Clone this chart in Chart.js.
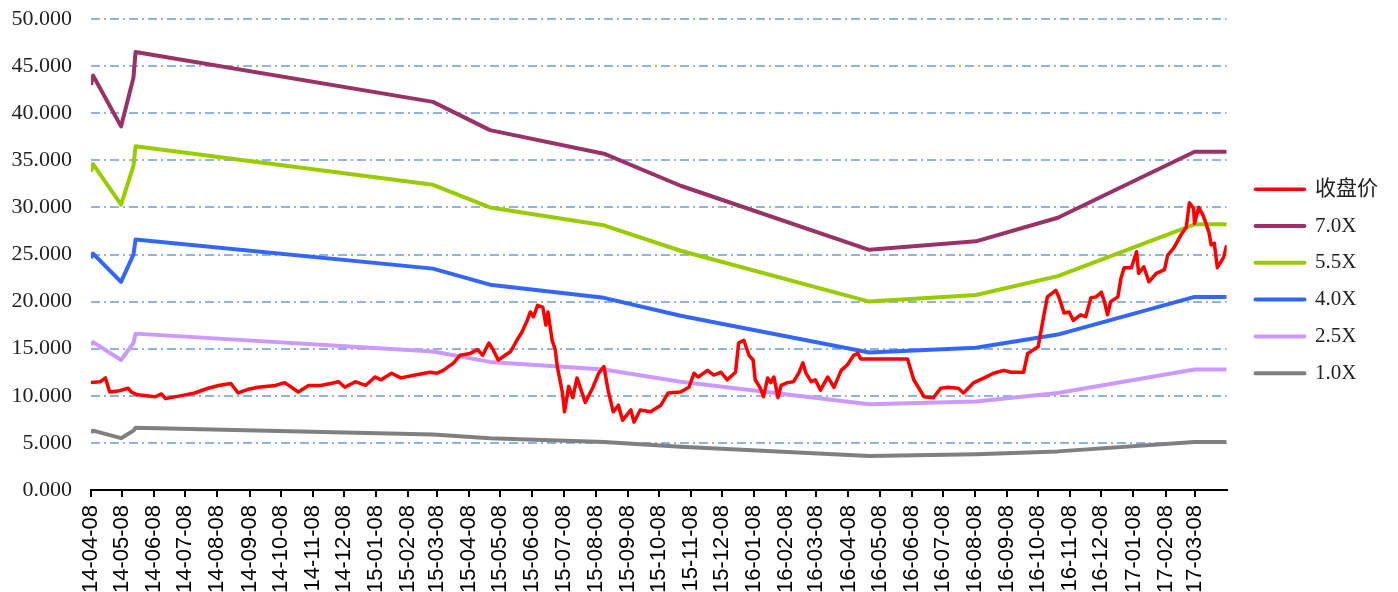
<!DOCTYPE html>
<html>
<head>
<meta charset="utf-8">
<script src="https://cdn.jsdelivr.net/npm/chart.js"></script>
<style>
  body { margin: 0; background: #fff; }
</style>
</head>
<body>
<canvas id="chart" width="1398" height="592"></canvas>
<script>
// monthly tick labels on the date axis (yy-mm-dd)
var tickLabels = ['14-04-08','14-05-08','14-06-08','14-07-08','14-08-08','14-09-08','14-10-08','14-11-08','14-12-08',
    '15-01-08','15-02-08','15-03-08','15-04-08','15-05-08','15-06-08','15-07-08','15-08-08','15-09-08','15-10-08','15-11-08','15-12-08',
    '16-01-08','16-02-08','16-03-08','16-04-08','16-05-08','16-06-08','16-07-08','16-08-08','16-09-08','16-10-08','16-11-08','16-12-08',
    '17-01-08','17-02-08','17-03-08'];
var lastDay = 1096;  // days after 14-04-08

// closing price, x = days after 14-04-08
var closeDay = [0,9,14,18,26,36,39,45,62,68,72,91,100,113,123,135,142,152,161,178,187,200,210,222,239,245,255,265,274,280,290,299,313,327,334,340,350,356,366,373,378,384,388,393,405,411,416,421,424,427,431,436,439,441,445,448,450,455,457,461,465,469,477,484,490,495,499,504,509,513,521,524,530,540,550,557,569,577,582,586,595,601,608,614,622,625,630,635,639,641,646,649,653,656,659,663,666,672,678,683,687,690,695,699,704,711,717,724,730,736,740,743,788,794,804,813,820,827,837,842,852,862,871,881,888,900,904,914,917,920,923,931,934,939,944,948,955,960,965,970,975,978,981,984,991,994,997,1004,1009,1011,1016,1021,1028,1036,1039,1045,1052,1057,1060,1064,1065,1069,1073,1076,1079,1081,1084,1087,1093,1096];
var closeVal = [11.4,11.5,11.9,10.4,10.5,10.8,10.4,10.1,9.9,10.2,9.7,10.1,10.3,10.8,11.1,11.3,10.3,10.7,10.9,11.1,11.4,10.4,11.1,11.1,11.5,10.9,11.5,11.1,12.0,11.7,12.4,11.9,12.2,12.5,12.4,12.7,13.5,14.3,14.5,14.9,14.3,15.6,14.9,13.8,14.7,15.9,16.8,18.0,18.9,18.4,19.6,19.4,17.5,18.9,15.9,14.9,13.1,10.3,8.3,11.0,9.8,11.9,9.3,10.8,12.4,13.1,10.6,8.3,9.0,7.4,8.5,7.2,8.5,8.3,9.0,10.3,10.4,10.9,12.4,12.0,12.7,12.2,12.5,11.7,12.5,15.6,15.9,14.3,13.8,11.7,10.8,9.9,11.9,11.4,12.0,9.8,11.1,11.4,11.5,12.4,13.5,12.4,11.5,11.7,10.6,12.0,10.9,12.7,13.3,14.3,14.5,13.9,13.9,11.7,9.9,9.8,10.8,10.9,10.8,10.3,11.4,11.9,12.4,12.7,12.5,12.5,14.5,15.2,17.0,18.8,20.5,21.2,20.5,18.8,18.9,18.0,18.6,18.4,20.4,20.5,21.0,20.0,18.6,20.0,20.5,22.5,23.6,23.6,25.3,23.0,23.7,22.1,23.0,23.4,24.9,25.7,27.1,27.9,30.5,29.9,28.3,30.0,29.2,28.3,27.3,26.0,26.2,23.6,24.7,26.0];

// PE bands, knots at report dates
var bandDay = [0, 2, 29, 41, 43, 330, 385, 495, 569, 751, 854, 933, 1065, 1096];
var band70 = [43.0, 44.0, 38.6, 43.8, 46.5, 41.2, 38.2, 35.7, 32.3, 25.5, 26.4, 28.9, 35.9, 35.9];
var band55 = [33.8, 34.6, 30.3, 34.4, 36.5, 32.4, 30.0, 28.1, 25.4, 20.0, 20.7, 22.7, 28.2, 28.2];
var band40 = [24.6, 25.1, 22.1, 25.0, 26.6, 23.5, 21.8, 20.4, 18.5, 14.6, 15.1, 16.5, 20.5, 20.5];
var band25 = [15.4, 15.7, 13.8, 15.6, 16.6, 14.7, 13.6, 12.8, 11.5, 9.1, 9.4, 10.3, 12.8, 12.8];
var band10 = [6.1, 6.3, 5.5, 6.3, 6.6, 5.9, 5.5, 5.1, 4.6, 3.6, 3.8, 4.1, 5.1, 5.1];

function labelDay(s) {
    var p = s.split('-');
    return (Date.UTC(2000 + Number(p[0]), Number(p[1]) - 1, Number(p[2])) - Date.UTC(2014, 3, 8)) / 86400000;
}
var tickDays = tickLabels.map(labelDay);

function pts(days, vals) {
    return days.map(function (d, i) { return {x: d, y: vals[i]}; });
}

function line(label, days, vals, color, width) {
    return {
        label: label,
        data: pts(days, vals),
        borderColor: color,
        backgroundColor: color,
        borderWidth: width,
        pointRadius: 0,
        tension: 0,
        borderJoinStyle: 'round'
    };
}

var serif = "'Liberation Serif', 'Noto Sans CJK SC', serif";

new Chart(document.getElementById('chart'), {
    type: 'line',
    data: {
        datasets: [
            line('收盘价', closeDay, closeVal, '#ff0000', 3.5),
            line('7.0X', bandDay, band70, '#993366', 4),
            line('5.5X', bandDay, band55, '#99cc00', 4),
            line('4.0X', bandDay, band40, '#3366ff', 4),
            line('2.5X', bandDay, band25, '#cc99ff', 4),
            line('1.0X', bandDay, band10, '#808080', 4)
        ]
    },
    options: {
        responsive: false,
        animation: false,
        devicePixelRatio: 1,
        layout: { padding: { top: 19, left: 0, right: 10, bottom: 0 } },
        plugins: {
            tooltip: { enabled: false },
            legend: {
                position: 'right',
                fullSize: false,
                title: { display: true, text: '', font: { size: 12 }, padding: { top: 0, bottom: 39 } },
                labels: {
                    boxWidth: 49,
                    boxHeight: 0,
                    padding: 15.8,
                    color: '#222',
                    font: { family: serif, size: 21 }
                }
            }
        },
        scales: {
            x: {
                type: 'linear',
                min: 0,
                max: lastDay,
                afterBuildTicks: function (scale) {
                    scale.ticks = tickDays.map(function (d) { return {value: d}; });
                },
                afterFit: function (scale) { scale.height = 102; },
                ticks: {
                    autoSkip: false,
                    minRotation: 90,
                    maxRotation: 90,
                    padding: 8,
                    color: '#000',
                    font: { family: "'Liberation Sans', Arial, sans-serif", size: 22 },
                    callback: function (v, i) { return tickLabels[i]; }
                },
                grid: { display: true, drawOnChartArea: false, drawTicks: true, tickLength: 7, color: '#000', lineWidth: 2 },
                border: { display: true, color: '#000', width: 2 }
            },
            y: {
                min: 0,
                max: 50,
                afterFit: function (scale) {
                    scale.width = 91;
                    scale.paddingTop = 0;
                    scale.paddingBottom = 0;
                },
                ticks: {
                    stepSize: 5,
                    padding: 19,
                    color: '#222',
                    font: { family: serif, size: 22 },
                    callback: function (v) { return v.toFixed(3); }
                },
                grid: { color: 'rgb(141,180,226)', lineWidth: 2, drawTicks: false },
                border: { display: false, dash: [9, 4, 2, 4] }
            },
            gap: {
                position: 'right',
                display: true,
                afterFit: function (scale) { scale.width = 13; },
                ticks: { display: false },
                grid: { display: false },
                border: { display: false }
            }
        }
    }
});
</script>
</body>
</html>
